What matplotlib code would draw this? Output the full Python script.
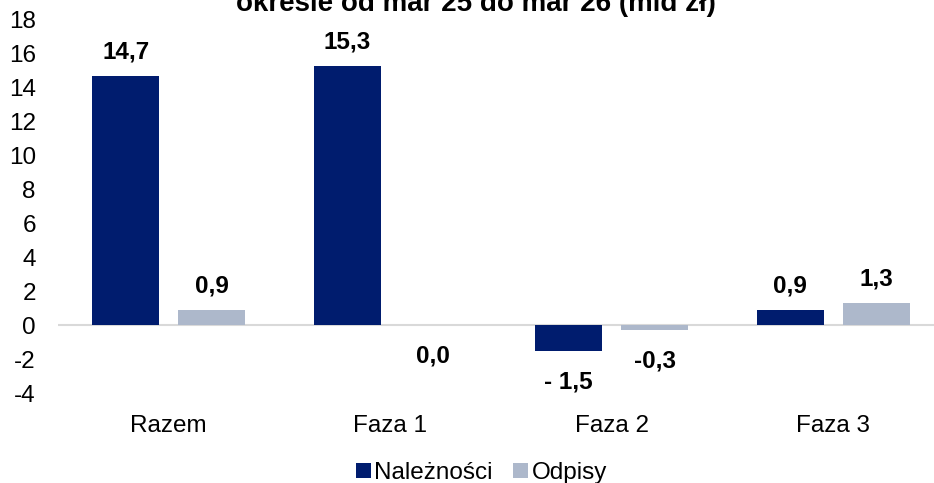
import matplotlib
matplotlib.use("Agg")
import matplotlib.pyplot as plt
import numpy as np

plt.rcParams['font.family'] = ['Liberation Sans', 'DejaVu Sans']

categories = ["Razem", "Faza 1", "Faza 2", "Faza 3"]
naleznosci = [14.7, 15.3, -1.5, 0.9]
odpisy = [0.9, 0.0, -0.3, 1.3]
naleznosci_labels = ["14,7", "15,3", "- 1,5", "0,9"]
odpisy_labels = ["0,9", "0,0", "-0,3", "1,3"]
yticks = [-4, -2, 0, 2, 4, 6, 8, 10, 12, 14, 16, 18]
title = "Zmiana należności i odpisów w\nokresie od mar 25 do mar 26 (mld zł)"

c_dark = "#001C6E"
c_light = "#ADB8CB"
FS = 17.5

fig = plt.figure(figsize=(9.34, 4.83), dpi=100)
ax = fig.add_axes([58/934, 1-393/483, 886/934, (393-20)/483])

x = np.arange(len(categories))
w = 0.303
off = 0.194
b1 = ax.bar(x - off, naleznosci, w, color=c_dark, label="Należności", zorder=3)
b2 = ax.bar(x + off, odpisy, w, color=c_light, label="Odpisy", zorder=3)

ax.set_xlim(-0.5, 3.5)
ax.set_ylim(-4, 18)
ax.set_yticks(yticks)
ax.set_yticklabels([str(t) for t in yticks], fontsize=FS)
ax.set_xticks(x)
ax.set_xticklabels(categories, fontsize=FS)
ax.tick_params(axis='y', length=0, pad=16)
ax.tick_params(axis='x', length=0, pad=15.5)
for s in ax.spines.values():
    s.set_visible(False)
ax.axhline(0, color="#D9D9D9", lw=1.5, zorder=2)

for bars, vals, labs in ((b1, naleznosci, naleznosci_labels), (b2, odpisy, odpisy_labels)):
    for rect, v, lab in zip(bars, vals, labs):
        cx = rect.get_x() + rect.get_width()/2
        if v > 0:
            ax.annotate(lab, (cx, v), xytext=(0, 9), textcoords="offset points",
                        ha="center", va="bottom", fontsize=FS, fontweight="bold")
        else:
            ax.annotate(lab, (cx, v), xytext=(0, -14), textcoords="offset points",
                        ha="center", va="top", fontsize=FS, fontweight="bold")

fig.text(0.51, 1 - 11/483, title, ha="center", va="baseline", fontsize=20,
         fontweight="bold", linespacing=1.2)

leg = fig.legend(handles=[b1, b2], loc="center", bbox_to_anchor=(481.5/934, 1 - 473/483),
                 ncol=2, frameon=False, fontsize=FS, handlelength=0.6, handleheight=0.6,
                 handletextpad=0.15, columnspacing=0.85, borderpad=0)

fig.savefig("out.png", dpi=100)
